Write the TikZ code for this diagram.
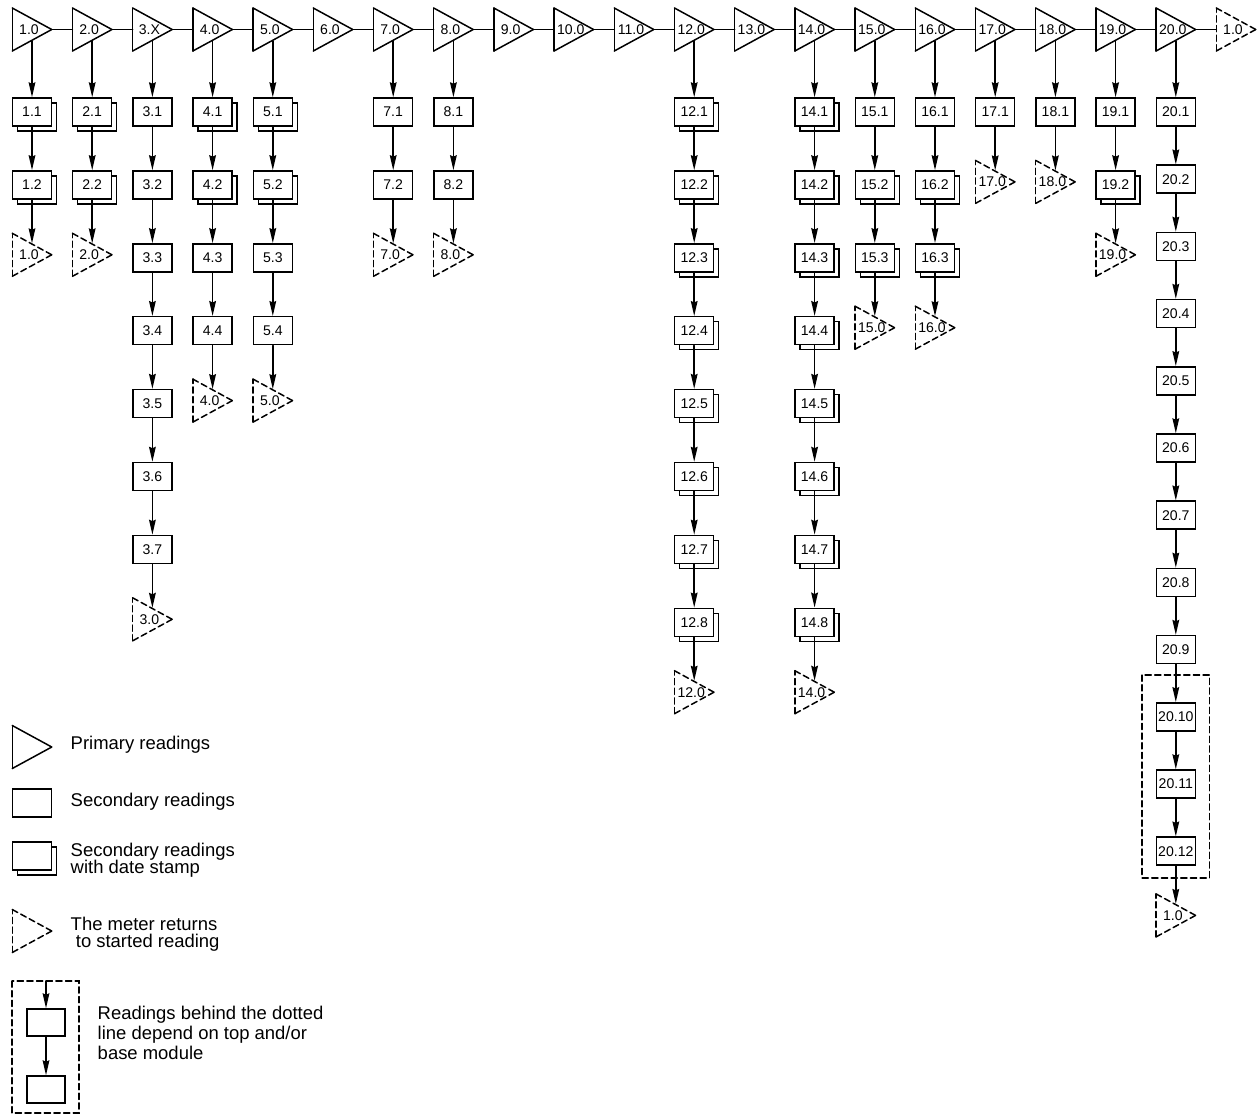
\documentclass[tikz,border=0pt]{standalone}
\usepackage{fontspec}
\setmainfont{Liberation Sans}
\usepackage{tikz}
\usetikzlibrary{arrows.meta,shadows}
\usepackage{xcolor}

\begin{document}
\begin{tikzpicture}[x=0.2mm,y=-0.2mm,>={Stealth[length=8.5pt,width=3.8pt,inset=0.8pt]},line width=0.85pt,line cap=round,
  font=\fontsize{8}{9.6}\selectfont,
  tri/.style={minimum width=7.6mm,minimum height=4.3mm,inner sep=0pt,execute at begin node={\kern-1.2mm},
    append after command={
      ([yshift=4.3mm]\tikzlastnode.west) edge[#1] (\tikzlastnode.east)
      (\tikzlastnode.east) edge[#1] ([yshift=-4.3mm]\tikzlastnode.west)
      ([yshift=-4.3mm]\tikzlastnode.west) edge[#1] ([yshift=4.3mm]\tikzlastnode.west)}},
  prim/.style={tri=draw},
  back/.style={tri={draw,dash pattern=on 3.5pt off 2pt}},
  box/.style={draw,fill=white,minimum width=7.8mm,minimum height=5.6mm,inner sep=0pt},
  dup/.style={box,copy shadow={shadow xshift=1mm,shadow yshift=-1mm,draw,fill=white}},
  grp/.style={dash pattern=on 3.5pt off 2pt},
  txt/.style={anchor=west,inner sep=0pt,align=left,font=\fontsize{10.5}{12.6}\selectfont}]
\useasboundingbox (0,0) rectangle (1260,1115);

% primary readings along the top
\node[prim] (p1) at (32,29.5) {1.0};
\node[prim] (p2) at (92.2,29.5) {2.0};
\node[prim] (p3) at (152.4,29.5) {3.X};
\node[prim] (p4) at (212.6,29.5) {4.0};
\node[prim] (p5) at (272.8,29.5) {5.0};
\node[prim] (p6) at (333,29.5) {6.0};
\node[prim] (p7) at (393.2,29.5) {7.0};
\node[prim] (p8) at (453.4,29.5) {8.0};
\node[prim] (p9) at (513.6,29.5) {9.0};
\node[prim] (p10) at (573.8,29.5) {10.0};
\node[prim] (p11) at (634,29.5) {11.0};
\node[prim] (p12) at (694.2,29.5) {12.0};
\node[prim] (p13) at (754.4,29.5) {13.0};
\node[prim] (p14) at (814.6,29.5) {14.0};
\node[prim] (p15) at (874.8,29.5) {15.0};
\node[prim] (p16) at (935,29.5) {16.0};
\node[prim] (p17) at (995.2,29.5) {17.0};
\node[prim] (p18) at (1055.4,29.5) {18.0};
\node[prim] (p19) at (1115.6,29.5) {19.0};
\node[prim] (p20) at (1175.8,29.5) {20.0};
\node[back] (p21) at (1236,29.5) {1.0};
\draw (p1) -- (p2);
\draw (p2) -- (p3);
\draw (p3) -- (p4);
\draw (p4) -- (p5);
\draw (p5) -- (p6);
\draw (p6) -- (p7);
\draw (p7) -- (p8);
\draw (p8) -- (p9);
\draw (p9) -- (p10);
\draw (p10) -- (p11);
\draw (p11) -- (p12);
\draw (p12) -- (p13);
\draw (p13) -- (p14);
\draw (p14) -- (p15);
\draw (p15) -- (p16);
\draw (p16) -- (p17);
\draw (p17) -- (p18);
\draw (p18) -- (p19);
\draw (p19) -- (p20);
\draw (p20) -- (p21);

% column 1
\node[dup] (b1-1) at (32,112) {1.1};
\node[dup] (b1-2) at (32,184.9) {1.2};
\node[back] (r1) at (32,254.8) {1.0};
\draw[->] (p1) -- (b1-1);
\draw[->] (b1-1) -- (b1-2);
\draw[->] (b1-2) -- (r1);

% column 2
\node[dup] (b2-1) at (92.2,112) {2.1};
\node[dup] (b2-2) at (92.2,184.9) {2.2};
\node[back] (r2) at (92.2,254.8) {2.0};
\draw[->] (p2) -- (b2-1);
\draw[->] (b2-1) -- (b2-2);
\draw[->] (b2-2) -- (r2);

% column 3
\node[box] (b3-1) at (152.4,112) {3.1};
\node[box] (b3-2) at (152.4,184.9) {3.2};
\node[box] (b3-3) at (152.4,257.8) {3.3};
\node[box] (b3-4) at (152.4,330.7) {3.4};
\node[box] (b3-5) at (152.4,403.6) {3.5};
\node[box] (b3-6) at (152.4,476.5) {3.6};
\node[box] (b3-7) at (152.4,549.4) {3.7};
\node[back] (r3) at (152.4,619.3) {3.0};
\draw[->] (p3) -- (b3-1);
\draw[->] (b3-1) -- (b3-2);
\draw[->] (b3-2) -- (b3-3);
\draw[->] (b3-3) -- (b3-4);
\draw[->] (b3-4) -- (b3-5);
\draw[->] (b3-5) -- (b3-6);
\draw[->] (b3-6) -- (b3-7);
\draw[->] (b3-7) -- (r3);

% column 4
\node[dup] (b4-1) at (212.6,112) {4.1};
\node[dup] (b4-2) at (212.6,184.9) {4.2};
\node[box] (b4-3) at (212.6,257.8) {4.3};
\node[box] (b4-4) at (212.6,330.7) {4.4};
\node[back] (r4) at (212.6,400.6) {4.0};
\draw[->] (p4) -- (b4-1);
\draw[->] (b4-1) -- (b4-2);
\draw[->] (b4-2) -- (b4-3);
\draw[->] (b4-3) -- (b4-4);
\draw[->] (b4-4) -- (r4);

% column 5
\node[dup] (b5-1) at (272.8,112) {5.1};
\node[dup] (b5-2) at (272.8,184.9) {5.2};
\node[box] (b5-3) at (272.8,257.8) {5.3};
\node[box] (b5-4) at (272.8,330.7) {5.4};
\node[back] (r5) at (272.8,400.6) {5.0};
\draw[->] (p5) -- (b5-1);
\draw[->] (b5-1) -- (b5-2);
\draw[->] (b5-2) -- (b5-3);
\draw[->] (b5-3) -- (b5-4);
\draw[->] (b5-4) -- (r5);

% column 7
\node[box] (b7-1) at (393.2,112) {7.1};
\node[box] (b7-2) at (393.2,184.9) {7.2};
\node[back] (r7) at (393.2,254.8) {7.0};
\draw[->] (p7) -- (b7-1);
\draw[->] (b7-1) -- (b7-2);
\draw[->] (b7-2) -- (r7);

% column 8
\node[box] (b8-1) at (453.4,112) {8.1};
\node[box] (b8-2) at (453.4,184.9) {8.2};
\node[back] (r8) at (453.4,254.8) {8.0};
\draw[->] (p8) -- (b8-1);
\draw[->] (b8-1) -- (b8-2);
\draw[->] (b8-2) -- (r8);

% column 12
\node[dup] (b12-1) at (694.2,112) {12.1};
\node[dup] (b12-2) at (694.2,184.9) {12.2};
\node[dup] (b12-3) at (694.2,257.8) {12.3};
\node[dup] (b12-4) at (694.2,330.7) {12.4};
\node[dup] (b12-5) at (694.2,403.6) {12.5};
\node[dup] (b12-6) at (694.2,476.5) {12.6};
\node[dup] (b12-7) at (694.2,549.4) {12.7};
\node[dup] (b12-8) at (694.2,622.3) {12.8};
\node[back] (r12) at (694.2,692.2) {12.0};
\draw[->] (p12) -- (b12-1);
\draw[->] (b12-1) -- (b12-2);
\draw[->] (b12-2) -- (b12-3);
\draw[->] (b12-3) -- (b12-4);
\draw[->] (b12-4) -- (b12-5);
\draw[->] (b12-5) -- (b12-6);
\draw[->] (b12-6) -- (b12-7);
\draw[->] (b12-7) -- (b12-8);
\draw[->] (b12-8) -- (r12);

% column 14
\node[dup] (b14-1) at (814.6,112) {14.1};
\node[dup] (b14-2) at (814.6,184.9) {14.2};
\node[dup] (b14-3) at (814.6,257.8) {14.3};
\node[dup] (b14-4) at (814.6,330.7) {14.4};
\node[dup] (b14-5) at (814.6,403.6) {14.5};
\node[dup] (b14-6) at (814.6,476.5) {14.6};
\node[dup] (b14-7) at (814.6,549.4) {14.7};
\node[dup] (b14-8) at (814.6,622.3) {14.8};
\node[back] (r14) at (814.6,692.2) {14.0};
\draw[->] (p14) -- (b14-1);
\draw[->] (b14-1) -- (b14-2);
\draw[->] (b14-2) -- (b14-3);
\draw[->] (b14-3) -- (b14-4);
\draw[->] (b14-4) -- (b14-5);
\draw[->] (b14-5) -- (b14-6);
\draw[->] (b14-6) -- (b14-7);
\draw[->] (b14-7) -- (b14-8);
\draw[->] (b14-8) -- (r14);

% column 15
\node[box] (b15-1) at (874.8,112) {15.1};
\node[dup] (b15-2) at (874.8,184.9) {15.2};
\node[dup] (b15-3) at (874.8,257.8) {15.3};
\node[back] (r15) at (874.8,327.7) {15.0};
\draw[->] (p15) -- (b15-1);
\draw[->] (b15-1) -- (b15-2);
\draw[->] (b15-2) -- (b15-3);
\draw[->] (b15-3) -- (r15);

% column 16
\node[box] (b16-1) at (935,112) {16.1};
\node[dup] (b16-2) at (935,184.9) {16.2};
\node[dup] (b16-3) at (935,257.8) {16.3};
\node[back] (r16) at (935,327.7) {16.0};
\draw[->] (p16) -- (b16-1);
\draw[->] (b16-1) -- (b16-2);
\draw[->] (b16-2) -- (b16-3);
\draw[->] (b16-3) -- (r16);

% columns 17 to 19
\node[box] (b17-1) at (995.2,112) {17.1};
\node[back] (r17) at (995.2,181.9) {17.0};
\draw[->] (p17) -- (b17-1);
\draw[->] (b17-1) -- (r17);
\node[box] (b18-1) at (1055.4,112) {18.1};
\node[back] (r18) at (1055.4,181.9) {18.0};
\draw[->] (p18) -- (b18-1);
\draw[->] (b18-1) -- (r18);
\node[box] (b19-1) at (1115.6,112) {19.1};
\node[dup] (b19-2) at (1115.6,184.9) {19.2};
\node[back] (r19) at (1115.6,254.8) {19.0};
\draw[->] (p19) -- (b19-1);
\draw[->] (b19-1) -- (b19-2);
\draw[->] (b19-2) -- (r19);

% column 20
\node[box] (b20-1) at (1175.8,112) {20.1};
\node[box] (b20-2) at (1175.8,179.2) {20.2};
\node[box] (b20-3) at (1175.8,246.4) {20.3};
\node[box] (b20-4) at (1175.8,313.6) {20.4};
\node[box] (b20-5) at (1175.8,380.8) {20.5};
\node[box] (b20-6) at (1175.8,448) {20.6};
\node[box] (b20-7) at (1175.8,515.2) {20.7};
\node[box] (b20-8) at (1175.8,582.4) {20.8};
\node[box] (b20-9) at (1175.8,649.6) {20.9};
\node[box] (b20-10) at (1175.8,716.8) {20.10};
\node[box] (b20-11) at (1175.8,784) {20.11};
\node[box] (b20-12) at (1175.8,851.2) {20.12};
\node[back] (r20) at (1175.8,915.4) {1.0};
\draw[->] (p20) -- (b20-1);
\draw[->] (b20-1) -- (b20-2);
\draw[->] (b20-2) -- (b20-3);
\draw[->] (b20-3) -- (b20-4);
\draw[->] (b20-4) -- (b20-5);
\draw[->] (b20-5) -- (b20-6);
\draw[->] (b20-6) -- (b20-7);
\draw[->] (b20-7) -- (b20-8);
\draw[->] (b20-8) -- (b20-9);
\draw[->] (b20-9) -- (b20-10);
\draw[->] (b20-10) -- (b20-11);
\draw[->] (b20-11) -- (b20-12);
\draw[->] (b20-12) -- (r20);
\draw[grp] ([xshift=-2.7mm,yshift=5.4mm]b20-10.north west) rectangle ([xshift=2.7mm,yshift=-2.4mm]b20-12.south east);

% legend
\node[prim] (lp) at (32,747) {};
\node[txt] (lpt) at (70,745) {Primary readings};
\node[box] (lb) at (32,803) {};
\node[txt] (lbt) at (70,802) {Secondary readings};
\node[dup] (ld) at (32,856) {};
\node[txt] (ldt) at (70,860.5) {Secondary readings\\[-3pt]with date stamp};
\node[back] (lr) at (32,931) {};
\node[txt] (lrt) at (70,934) {The meter returns\\[-3pt]~to started reading};
\coordinate (lg) at (46,981);
\node[box,minimum width=7.6mm,minimum height=5.4mm] (lx1) at (46,1022.5) {};
\node[box,minimum width=7.6mm,minimum height=5.4mm] (lx2) at (46,1089.5) {};
\draw[->] (lg) -- (lx1);
\draw[->] (lx1) -- (lx2);
\draw[grp] (12,981) rectangle (79,1113);
\node[txt] (lgt) at (97,1033) {Readings behind the dotted\\[-1.2pt]line depend on top and/or\\[-1.2pt]base module};
\end{tikzpicture}
\end{document}
